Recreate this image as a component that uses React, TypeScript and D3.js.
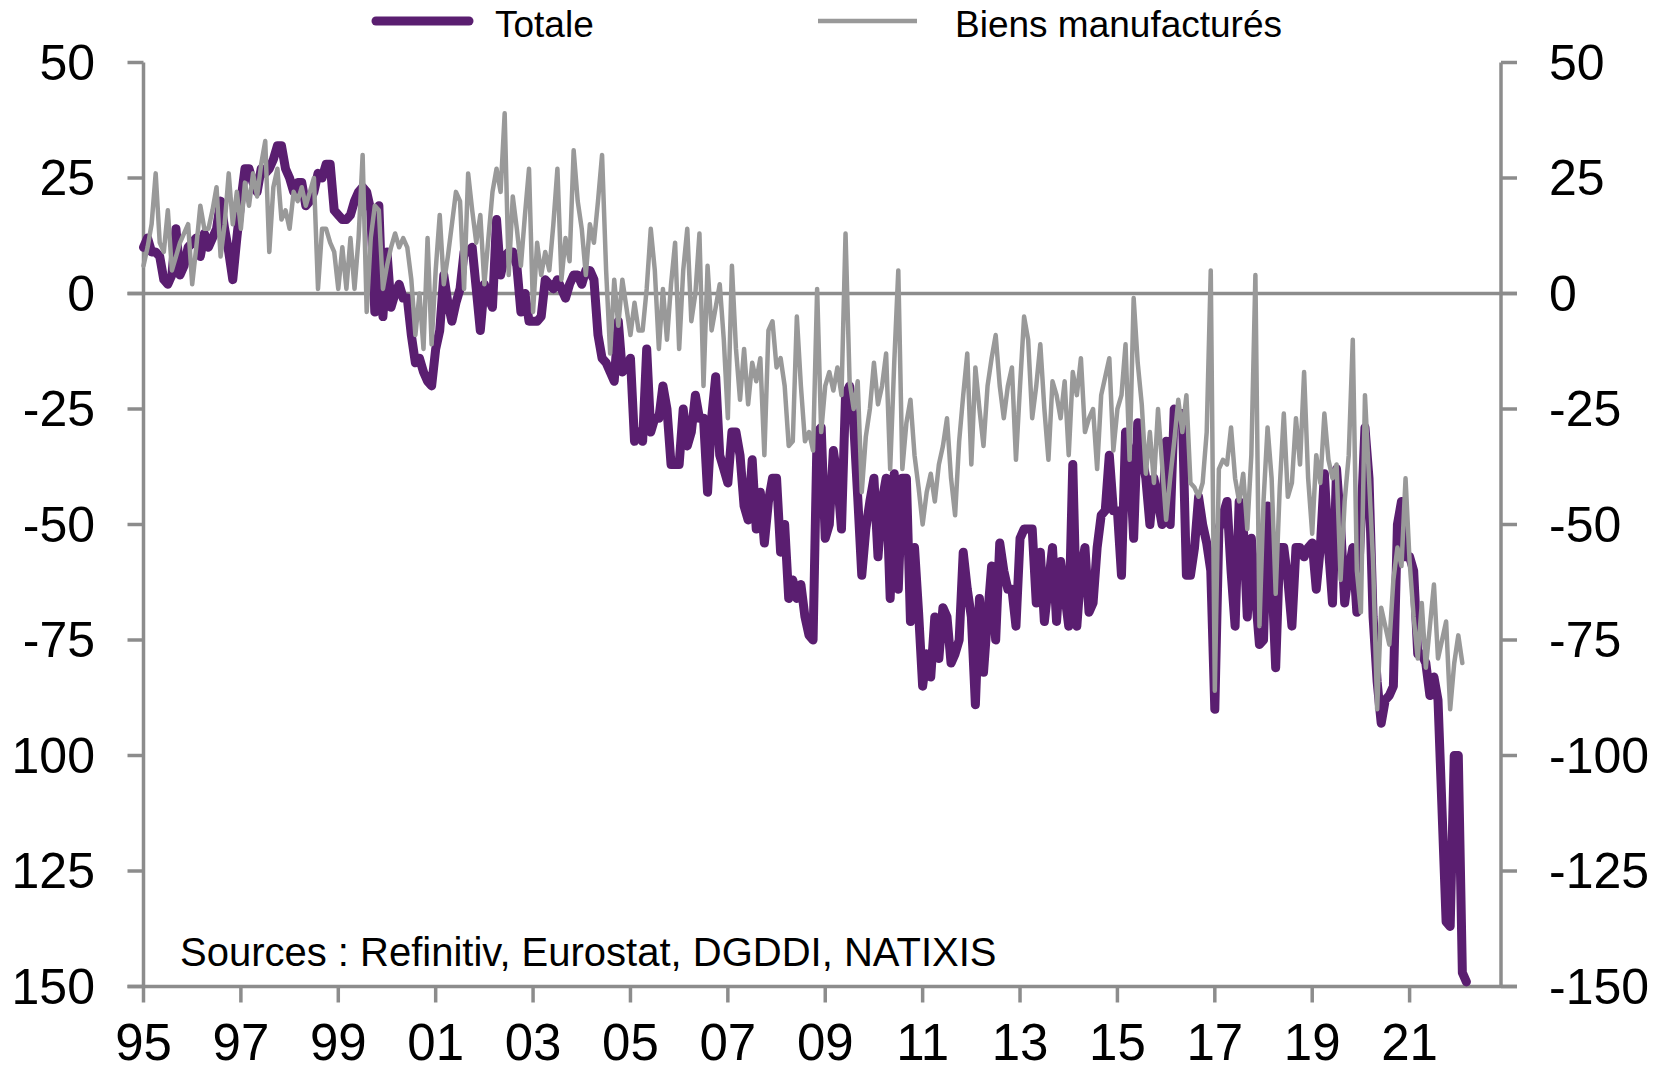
import React from 'react';
import * as d3 from 'd3';

const startYear = 1995;

// Totale (monthly, from Jan 1995)
const totale: number[] = [
  10, 12, 9, 9, 8, 3, 2, 4, 14, 4, 6, 10,
  11, 12, 8, 13, 10, 12, 14, 20, 14, 9, 3, 12,
  20, 27, 27, 24, 22, 27, 26, 27, 29, 32, 32, 27,
  25, 22, 24, 24, 19, 20, 22, 26, 25, 28, 28, 18,
  17, 16, 16, 17, 20, 22, 23, 22, 18, -4, 19, -5,
  9, -3, 0, 2, -1, -1, -9, -15, -14, -17, -19, -20,
  -12, -8, 4, -2, -6, -2, 1, 9, 9, 10, 1, -8,
  2, -1, -3, 16, 4, 8, 9, 9, 6, -4, 0, -6,
  -6, -6, -5, 3, 2, 1, 3, 1, -1, 2, 4, 4,
  2, 5, 5, 3, -9, -14, -15, -17, -19, -6, -17, -16,
  -14, -32, -30, -32, -12, -30, -27, -27, -20, -25, -37, -37,
  -37, -25, -33, -30, -22, -27, -27, -43, -27, -18, -35, -38,
  -41, -30, -30, -35, -46, -49, -36, -51, -43, -54, -45, -40,
  -40, -56, -50, -66, -62, -66, -63, -70, -74, -75, -30, -29,
  -53, -50, -34, -40, -51, -22, -20, -28, -44, -61, -51, -45,
  -40, -57, -45, -40, -66, -39, -64, -40, -40, -71, -55, -69,
  -85, -78, -83, -70, -79, -68, -70, -80, -78, -75, -56, -64,
  -70, -89, -66, -82, -70, -59, -75, -54, -60, -64, -64, -72,
  -53, -51, -51, -51, -67, -56, -71, -63, -55, -71, -58, -65,
  -72, -37, -72, -60, -55, -69, -67, -55, -48, -47, -35, -47,
  -47, -61, -30, -35, -53, -28, -35, -40, -50, -40, -45, -50,
  -32, -50, -25, -26, -26, -61, -61, -55, -44, -50, -54, -60,
  -90, -51, -48, -45, -60, -72, -45, -50, -70, -53, -65, -76,
  -75, -46, -60, -81, -55, -55, -62, -72, -55, -55, -57, -55,
  -54, -64, -55, -39, -55, -67, -38, -50, -67, -60, -55, -69,
  -50, -29, -40, -70, -84, -93, -88, -87, -85, -50, -45, -57,
  -57, -60, -78, -78, -80, -87, -83, -88, -112, -136, -137, -100,
  -100, -147, -149,
];

// Biens manufacturés (monthly, from Jan 1995)
const biensManufactures: number[] = [
  6, 10, 15, 26, 11, 9, 18, 5, 8, 11, 13, 15,
  2, 10, 19, 14, 14, 18, 23, 8, 15, 26, 15, 22,
  14, 24, 19, 26, 21, 28, 33, 9, 23, 27, 16, 18,
  14, 22, 20, 23, 19, 22, 25, 1, 14, 14, 11, 9,
  1, 10, 1, 12, 1, 12, 30, -4, 12, 19, 18, 1,
  6, 10, 13, 10, 12, 10, 3, -9, 0, -12, 12, -11,
  5, 17, 2, 8, 15, 22, 20, 1, 26, 18, 11, 17,
  2, 12, 22, 27, 22, 39, 4, 21, 14, 6, 17, 27,
  -4, 11, 4, 9, 5, 15, 27, 3, 12, 7, 31, 20,
  14, 4, 15, 11, 20, 30, 5, -13, 3, -7, 3, -3,
  -9, -2, -8, -8, 1, 14, 5, -12, 1, -10, 2, 11,
  -12, 5, 14, -6, 0, 13, -20, 6, -8, -3, 2, -10,
  -27, 6, -12, -23, -12, -24, -15, -19, -14, -35, -8, -6,
  -16, -14, -20, -33, -32, -5, -20, -32, -30, -34, 1, -30,
  -20, -17, -21, -16, -22, 13, -19, -25, -19, -43, -31, -25,
  -15, -24, -20, -13, -38, -15, 5, -38, -28, -23, -35, -42,
  -50, -43, -39, -45, -37, -33, -27, -40, -48, -32, -22, -13,
  -37, -16, -25, -33, -20, -14, -9, -20, -27, -20, -16, -36,
  -20, -5, -10, -27, -20, -11, -25, -36, -19, -22, -27, -19,
  -35, -17, -22, -14, -30, -27, -25, -38, -22, -18, -14, -34,
  -25, -22, -11, -36, -1, -15, -24, -39, -30, -41, -25, -37,
  -49, -40, -32, -23, -30, -22, -41, -42, -44, -41, -30, 5,
  -86, -38, -36, -37, -29, -40, -45, -39, -51, -35, 4, -72,
  -45, -29, -40, -65, -42, -26, -44, -41, -27, -37, -17, -40,
  -52, -35, -41, -26, -36, -40, -37, -62, -45, -35, -10, -60,
  -69, -22, -40, -58, -90, -68, -72, -76, -62, -55, -59, -40,
  -58, -70, -79, -67, -81, -72, -63, -79, -75, -71, -90, -80,
  -74, -80,
];

const yTicks = [50, 25, 0, -25, -50, -75, -100, -125, -150];
// left labels as displayed in the reference (leading minus cut off by the image edge)
const yLeftLabels = ['50', '25', '0', '-25', '-50', '-75', '100', '125', '150'];
const yRightLabels = ['50', '25', '0', '-25', '-50', '-75', '-100', '-125', '-150'];
const xTickYears = [1995, 1997, 1999, 2001, 2003, 2005, 2007, 2009, 2011, 2013, 2015, 2017, 2019, 2021];
const xTickLabels = ['95', '97', '99', '01', '03', '05', '07', '09', '11', '13', '15', '17', '19', '21'];
const seriesNames = ['Totale', 'Biens manufacturés'];
const sourceText = 'Sources : Refinitiv, Eurostat, DGDDI, NATIXIS';

const PURPLE = '#5a1e70';
const GREY = '#999999';
const AXIS = '#8c8c8c';
const FONT = '"Liberation Sans", Arial, sans-serif';

export default function App() {
  const W = 1662;
  const H = 1071;
  const x = d3.scaleLinear().domain([1995, 2021]).range([143.5, 1409.6]);
  const y = d3.scaleLinear().domain([-150, 50]).range([986.5, 62.5]);
  const leftX = 143.5;
  const rightX = 1501;
  const tickLen = 16;

  const line = d3
    .line<number>()
    .x((_, i) => x(startYear + i / 12))
    .y((d) => y(d));

  return (
    <svg
      width={W}
      height={H}
      viewBox={`0 0 ${W} ${H}`}
      style={{ position: 'absolute', left: 0, top: 0, background: '#fff' }}
      fontFamily={FONT}
    >
      <rect x={0} y={0} width={W} height={H} fill="#fff" />
      {/* axes */}
      <g stroke={AXIS} strokeWidth={3.5} fill="none">
        <line x1={leftX} x2={leftX} y1={y(50)} y2={y(-150)} />
        <line x1={rightX} x2={rightX} y1={y(50)} y2={y(-150)} />
        <line x1={leftX - tickLen} x2={rightX + tickLen} y1={y(-150)} y2={y(-150)} />
        <line x1={leftX - tickLen} x2={rightX + tickLen} y1={y(0)} y2={y(0)} />
        {yTicks.map((t) => (
          <g key={'yt' + t}>
            <line x1={leftX - tickLen} x2={leftX} y1={y(t)} y2={y(t)} />
            <line x1={rightX} x2={rightX + tickLen} y1={y(t)} y2={y(t)} />
          </g>
        ))}
        {xTickYears.map((yr) => (
          <line key={'xt' + yr} x1={x(yr)} x2={x(yr)} y1={y(-150)} y2={y(-150) + tickLen} />
        ))}
      </g>
      {/* y labels */}
      <g fontSize={50} fill="#000">
        {yTicks.map((t, i) => (
          <text key={'yl' + t} x={95} y={y(t) + 17} textAnchor="end">
            {yLeftLabels[i]}
          </text>
        ))}
        {yTicks.map((t, i) => (
          <text key={'yr' + t} x={1549} y={y(t) + 17} textAnchor="start">
            {yRightLabels[i]}
          </text>
        ))}
      </g>
      {/* x labels */}
      <g fontSize={51} fill="#000">
        {xTickYears.map((yr, i) => (
          <text key={'xl' + yr} x={x(yr)} y={1060} textAnchor="middle">
            {xTickLabels[i]}
          </text>
        ))}
      </g>
      {/* series */}
      <path d={line(totale) || ''} fill="none" stroke={PURPLE} strokeWidth={9} strokeLinejoin="round" strokeLinecap="round" />
      <path d={line(biensManufactures) || ''} fill="none" stroke={GREY} strokeWidth={4.5} strokeLinejoin="round" strokeLinecap="round" />
      {/* legend */}
      <line x1={376} x2={469} y1={21} y2={21} stroke={PURPLE} strokeWidth={9} strokeLinecap="round" />
      <text x={495} y={37} fontSize={37} fill="#000">{seriesNames[0]}</text>
      <line x1={818} x2={917} y1={21} y2={21} stroke={GREY} strokeWidth={4.5} />
      <text x={955} y={37} fontSize={37} fill="#000">{seriesNames[1]}</text>
      {/* source */}
      <text x={180} y={966} fontSize={40} fill="#000">{sourceText}</text>
    </svg>
  );
}
